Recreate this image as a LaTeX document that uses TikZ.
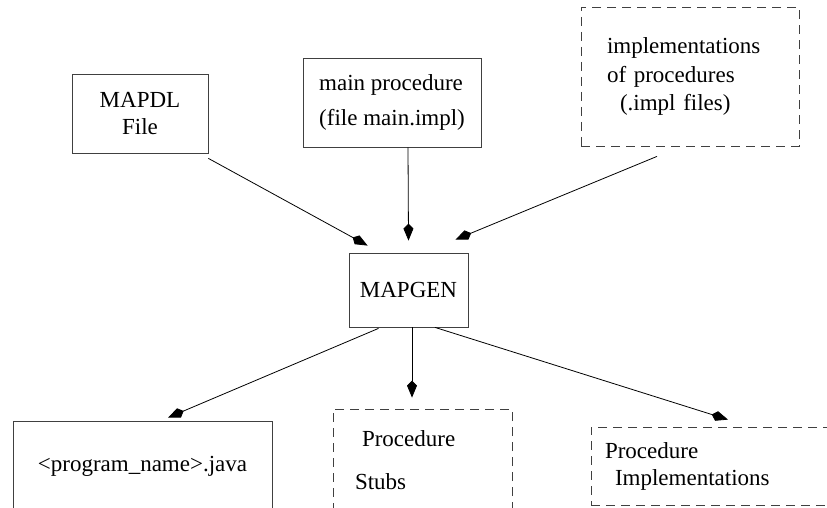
\documentclass[tikz,border=0pt]{standalone}
\usepackage{fontspec}
\setmainfont{Liberation Serif}
\usetikzlibrary{arrows.meta,calc}
\tikzset{
  box/.style={draw=black!75,line width=0.8pt,rectangle,inner sep=0pt,
    font=\fontsize{23}{27}\selectfont,align=center},
  dbox/.style={box,dash pattern=on 9pt off 6pt},
  arr/.style={-{Kite[length=17pt,width=10pt,inset=5pt]},line width=0.8pt},
}
\begin{document}
\begin{tikzpicture}[x=1pt,y=-1pt]
  \useasboundingbox (0,0) rectangle (827,508);
  % inputs
  \node[box,minimum width=136,minimum height=79] (mapdl) at (140,113.5) {MAPDL\\File};
  \node[box,minimum width=178,minimum height=89,align=left]
    (mainproc) at (392,102.5) {main procedure\\[8pt](file main.impl)};
  \node[dbox,minimum width=218,minimum height=139,inner xsep=26pt,text width=166pt,align=left]
    (implfiles) at (690,76.5) {implementations\\[1.5pt]of procedures\\[1.5pt]\hspace*{13pt}(.impl files)};
  % generator
  \node[box,minimum width=119,minimum height=74] (mapgen) at (408.5,290) {MAPGEN};
  % outputs
  \node[box,minimum width=259,minimum height=91] (prog) at (142.5,466.5) {<program\_name>.java};
  \node[dbox,minimum width=179,minimum height=103,inner xsep=22pt,text width=135pt,align=left]
    (stubs) at (422.5,460.5) {\hspace*{7pt}Procedure\\[16pt]Stubs};
  \node[dbox,minimum width=254,minimum height=78,inner xsep=14pt,text width=226pt,align=left]
    (procimpl) at (718,466) {Procedure\\\hspace*{10pt}Implementations};
  \draw[arr] ($(mapdl.south east)+(0,5)$) -- ($(mapgen.north west)+(19,-7)$);
  \draw[arr] ($(mainproc.south)+(16,0)$) -- ($(mapgen.north)+(0,-12)$);
  \draw[arr] ($(implfiles.south)+(-33,10)$) -- ($(mapgen.north east)+(-13,-13)$);
  \draw[arr] ($(mapgen.south)+(-30,1)$) -- ($(prog.north)+(25.5,-3)$);
  \draw[arr] ($(mapgen.south)+(3.5,0)$) -- ($(stubs.north)+(-10.5,-11)$);
  \draw[arr] ($(mapgen.south)+(26.5,0)$) -- ($(procimpl.north)+(10,-7)$);
\end{tikzpicture}
\end{document}
